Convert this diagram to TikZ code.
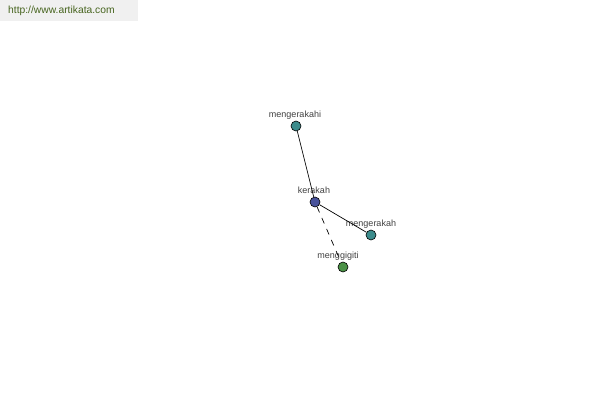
\documentclass[tikz,border=0pt]{standalone}
\usepackage{fontspec}
\setmainfont{Liberation Sans}
\begin{document}
\begin{tikzpicture}[x=1pt,y=-1pt,
  vert/.style={circle,draw=black,line width=0.6pt,minimum size=10pt,inner sep=0pt},
  lbl/.style={font=\fontsize{9pt}{10pt}\selectfont,text=black!75,inner sep=0pt},
  edge/.style={draw=black,line width=0.7pt}]
\useasboundingbox (0,0) rectangle (600,400);
\fill[gray!12] (0,0) rectangle (138,21);
\node[anchor=west,font=\fontsize{10.3pt}{12pt}\selectfont,text={rgb,255:red,70;green,100;blue,30},inner sep=0pt] (url) at (8,11) {http://www.artikata.com};
\node[vert,fill={rgb,255:red,60;green,140;blue,140}] (a) at (296,126) {};
\node[vert,fill={rgb,255:red,72;green,82;blue,155}] (k) at (315,202) {};
\node[vert,fill={rgb,255:red,60;green,140;blue,140}] (b) at (371,235) {};
\node[vert,fill={rgb,255:red,75;green,145;blue,70}] (c) at (343,267) {};
\node[lbl] (la) at (295,115) {mengerakahi};
\node[lbl] (lk) at (314,190) {kerakah};
\node[lbl] (lb) at (371,224) {mengerakah};
\node[lbl] (lc) at (338,256) {menggigiti};
\draw[edge] (a) -- (k);
\draw[edge] (k) -- (b);
\draw[edge,dash pattern=on 6pt off 6pt] (k) -- (c);
\end{tikzpicture}
\end{document}
